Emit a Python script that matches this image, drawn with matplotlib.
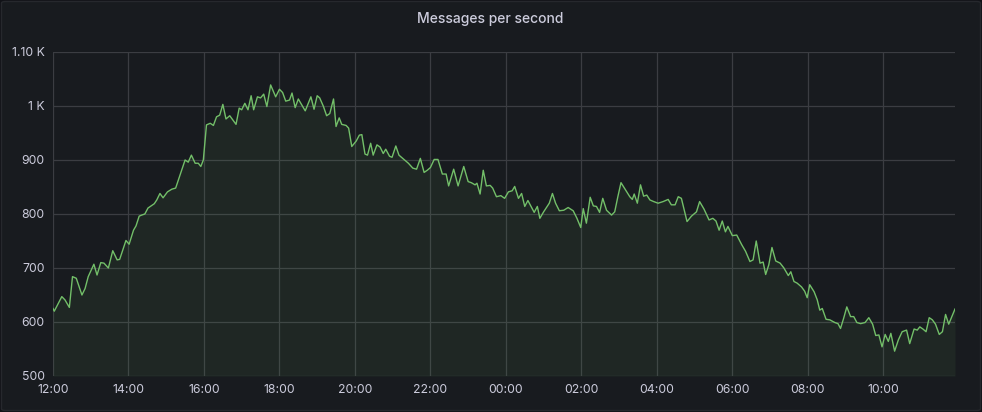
import matplotlib
matplotlib.use("Agg")
import matplotlib.pyplot as plt
from matplotlib.patches import FancyBboxPatch
from matplotlib.ticker import FuncFormatter, MultipleLocator

# minutes after 12:00 and messages/s
MINUTES = [
    0, 2, 14, 19, 26, 31, 37, 46, 51, 56, 65, 70, 76, 81, 88, 95, 102, 106,
    116, 121, 128, 132, 137, 141, 146, 151, 156, 161, 165, 170, 175, 182,
    189, 195, 202, 210, 215, 220, 226, 231, 235, 239, 244, 250, 255, 260,
    265, 270, 275, 281, 291, 296, 300, 305, 310, 315, 319, 325, 330, 335,
    340, 346, 354, 360, 365, 370, 376, 380, 385, 390, 401, 410, 415, 420,
    424, 430, 435, 440, 446, 450, 455, 459, 466, 470, 475, 482, 487, 491,
    496, 500, 505, 509, 515, 520, 525, 529, 535, 539, 545, 550, 558, 565,
    572, 578, 584, 590, 595, 600, 606, 612, 619, 625, 629, 637, 644, 653,
    660, 665, 671, 674, 679, 684, 689, 695, 699, 705, 712, 718, 724, 730,
    734, 740, 745, 750, 755, 765, 770, 774, 780, 789, 794, 799, 805, 812,
    819, 827, 833, 839, 843, 848, 854, 859, 864, 869, 874, 880, 888, 893,
    898, 903, 911, 917, 921, 924, 929, 934, 939, 944, 949, 955, 962, 970,
    978, 983, 989, 994, 999, 1008, 1015, 1023, 1028, 1035, 1043, 1049,
    1054, 1059, 1064, 1069, 1073, 1080, 1087, 1095, 1101, 1108, 1113, 1118,
    1124, 1129, 1133, 1138, 1143, 1149, 1156, 1162, 1169, 1173, 1178, 1183,
    1190, 1195, 1199, 1203, 1210, 1215, 1219, 1223, 1229, 1235, 1243, 1248,
    1252, 1257, 1262, 1268, 1273, 1278, 1284, 1291, 1297, 1303, 1308, 1313,
    1318, 1323, 1328, 1332, 1338, 1344, 1350, 1357, 1362, 1369, 1374, 1378,
    1383, 1388, 1393, 1398, 1403, 1409, 1414, 1419, 1424, 1434,
]
RATE = [
    625, 620, 647, 641, 627, 684, 681, 650, 662, 684, 707, 687, 710, 709,
    700, 732, 715, 716, 751, 744, 770, 778, 796, 798, 800, 811, 815, 819,
    826, 838, 830, 841, 846, 848, 872, 900, 896, 909, 894, 894, 888, 900,
    965, 968, 964, 980, 983, 1003, 976, 982, 966, 996, 993, 1005, 993, 1019,
    993, 1017, 1015, 1022, 999, 1039, 1017, 1031, 1025, 1009, 1011, 1024,
    997, 1013, 991, 1017, 994, 1019, 1015, 999, 982, 986, 1013, 962, 978,
    966, 964, 959, 925, 935, 946, 947, 911, 909, 931, 909, 928, 924, 912,
    920, 907, 905, 926, 909, 901, 894, 885, 883, 903, 877, 881, 886, 901,
    901, 874, 874, 852, 883, 852, 888, 860, 858, 854, 857, 837, 881, 852,
    853, 848, 832, 834, 829, 841, 843, 851, 829, 838, 814, 825, 803, 814,
    792, 804, 820, 838, 820, 806, 807, 812, 806, 792, 775, 810, 783, 831,
    815, 814, 803, 829, 807, 798, 804, 832, 858, 843, 832, 827, 837, 820,
    854, 833, 835, 826, 823, 820, 823, 827, 817, 817, 832, 829, 786, 796,
    804, 823, 809, 789, 792, 787, 770, 787, 767, 777, 760, 761, 743, 731,
    712, 715, 750, 709, 711, 688, 706, 738, 713, 709, 700, 686, 693, 675,
    672, 665, 657, 645, 669, 656, 641, 622, 625, 605, 604, 599, 597, 588,
    607, 628, 610, 610, 599, 597, 599, 608, 596, 575, 576, 554, 577, 564,
    579, 546, 567, 582, 585, 560, 587, 585, 591, 587, 582, 608, 604, 596,
    577, 582, 614, 596, 624,
]
X_LABELS = ["12:00", "14:00", "16:00", "18:00", "20:00", "22:00",
            "00:00", "02:00", "04:00", "06:00", "08:00", "10:00"]
TITLE = "Messages per second"

PAGE_BG = "#111217"
PANEL_BG = "#181b1f"
GRID = "#3b3d42"
TEXT = "#ccccdc"
GREEN = "#73bf69"

plt.rcParams["font.family"] = ["Inter", "DejaVu Sans"]

fig = plt.figure(figsize=(9.82, 4.12), dpi=100, facecolor=PAGE_BG)
fig.patches.append(FancyBboxPatch(
    (1.5 / 982, 1.5 / 412), 979 / 982, 409 / 412,
    boxstyle="round,pad=0,rounding_size=0.004", transform=fig.transFigure,
    facecolor=PANEL_BG, edgecolor="#26282d", linewidth=1.0, zorder=-5))

ax = fig.add_axes([53 / 982, 36 / 412, 902 / 982, 324 / 412])
ax.set_zorder(2)
ax.set_facecolor("none")

ax.plot(MINUTES, RATE, color=GREEN, lw=1.0, zorder=3)
ax.fill_between(MINUTES, RATE, 500, color=GREEN, alpha=0.08, lw=0, zorder=2)

ax.set_xlim(0, 1434)
ax.set_ylim(500, 1100)
ax.set_xticks(range(0, 1434, 120))
ax.set_xticklabels(X_LABELS)
ax.yaxis.set_major_locator(MultipleLocator(100))


def fmt_y(v, _):
    if v == 1000:
        return "1 K"
    if v > 1000:
        return f"{v / 1000:.2f} K"
    return f"{int(v)}"


ax.yaxis.set_major_formatter(FuncFormatter(fmt_y))
ax.grid(True, color=GRID, lw=0.9, zorder=1)
for s in ax.spines.values():
    s.set_visible(False)
ax.tick_params(length=0, colors=TEXT, labelsize=8.8)
ax.tick_params(axis="x", pad=6)
ax.tick_params(axis="y", pad=6)

fig.text(490 / 982, 1 - 19 / 412, TITLE, color=TEXT, fontsize=10,
         fontweight="medium", ha="center", va="center", zorder=3)

fig.savefig("out.png", dpi=100, facecolor=PAGE_BG)
